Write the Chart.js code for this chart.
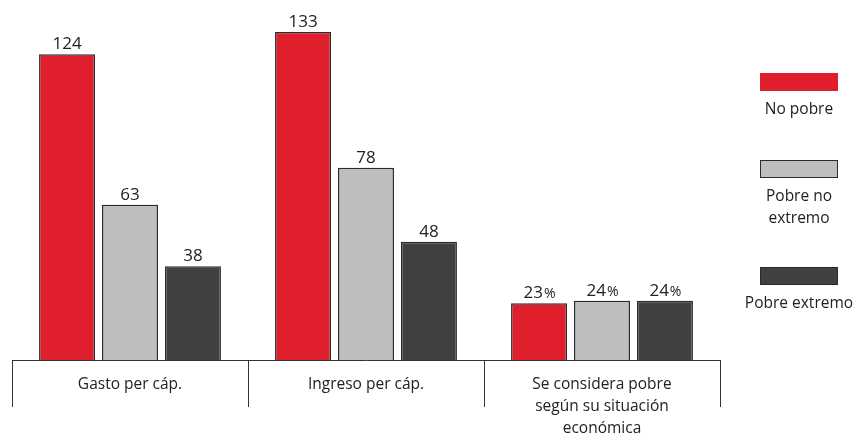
<!DOCTYPE html>
<html>
<head>
<meta charset="utf-8">
<script src="https://cdn.jsdelivr.net/npm/chart.js@4/dist/chart.umd.min.js"></script>
<style>
  body { margin: 0; background: #fff; font-family: "Open Sans", sans-serif; }
  #wrap { position: relative; width: 856px; height: 433px; }
  #legend { position: absolute; left: 740px; top: 73px; width: 118px; color: #222; font-size: 15.5px; text-align: center; }
  .item { position: absolute; left: 0; width: 118px; }
  .box { width: 78px; height: 18px; margin: 0 auto; box-sizing: border-box; }
  .lbl { line-height: 22px; margin-top: 6px; }
</style>
</head>
<body>
<div id="wrap">
  <canvas id="chart"></canvas>
  <div id="legend"></div>
</div>
<script>
// Data
const categories = ['Gasto per cáp.', 'Ingreso per cáp.', ['Se considera pobre', 'según su situación', 'económica']];
const seriesNames = ['No pobre', 'Pobre no extremo', 'Pobre extremo'];
const legendLabels = [['No pobre'], ['Pobre no', 'extremo'], ['Pobre extremo']];
const noPobre = [124, 133, 23];
const pobreNoExtremo = [63, 78, 24];
const pobreExtremo = [38, 48, 24];
const units = ['', '', '%'];

const colors = ['#E01F2D', '#BDBEC0', '#404042'];
const legendTops = [0, 87, 194];

// Value labels above bars, with a small % sign
const valueLabels = {
    id: 'valueLabels',
    afterDatasetsDraw(chart) {
        const ctx = chart.ctx;
        ctx.save();
        ctx.fillStyle = '#222';
        ctx.textBaseline = 'alphabetic';
        chart.data.datasets.forEach((ds, i) => {
            chart.getDatasetMeta(i).data.forEach((bar, j) => {
                const num = String(ds.data[j]);
                const unit = units[j];
                ctx.font = '17px "Open Sans"';
                const w1 = ctx.measureText(num).width;
                ctx.font = '14px "Open Sans"';
                const w2 = unit ? ctx.measureText(unit).width : 0;
                const x = bar.x - (w1 + w2) / 2;
                const y = bar.y - 5;
                ctx.font = '17px "Open Sans"';
                ctx.textAlign = 'left';
                ctx.fillText(num, x, y);
                if (unit) {
                    ctx.font = '14px "Open Sans"';
                    ctx.fillText(unit, x + w1 + 1, y);
                }
            });
        });
        ctx.restore();
    }
};

function initChart() {
    const ctx = document.getElementById('chart').getContext('2d');
    return new Chart(ctx, {
        type: 'bar',
        data: {
            labels: categories,
            datasets: [noPobre, pobreNoExtremo, pobreExtremo].map((d, i) => ({
                label: seriesNames[i],
                data: d,
                backgroundColor: colors[i],
                borderColor: '#2b2b2b',
                borderWidth: 1.5,
                categoryPercentage: 0.8,
                barPercentage: 0.89
            }))
        },
        options: {
            responsive: true,
            maintainAspectRatio: false,
            animation: false,
            layout: { padding: { left: 12, right: 136, top: 0, bottom: 0 } },
            plugins: {
                legend: { display: false },
                tooltip: { enabled: false }
            },
            scales: {
                x: {
                    afterFit: s => { s.height = 73; },
                    grid: {
                        display: true,
                        drawOnChartArea: false,
                        drawTicks: true,
                        tickLength: 47,
                        color: '#333',
                        lineWidth: 1,
                        offset: true
                    },
                    border: { display: true, color: '#333', width: 1 },
                    ticks: {
                        color: '#222',
                        font: { family: '"Open Sans"', size: 15.5, lineHeight: 1.42 },
                        padding: -33,
                        maxRotation: 0,
                        autoSkip: false
                    }
                },
                y: {
                    display: false,
                    min: 0,
                    max: 146
                }
            }
        },
        plugins: [valueLabels]
    });
}

// Legend with labels under the boxes
function buildLegend() {
    const legend = document.getElementById('legend');
    seriesNames.forEach((name, i) => {
        const item = document.createElement('div');
        item.className = 'item';
        item.style.top = legendTops[i] + 'px';
        const box = document.createElement('div');
        box.className = 'box';
        box.style.background = colors[i];
        box.style.border = i === 0 ? 'none' : '1.5px solid #2b2b2b';
        const lbl = document.createElement('div');
        lbl.className = 'lbl';
        lbl.innerHTML = legendLabels[i].join('<br>');
        item.appendChild(box);
        item.appendChild(lbl);
        legend.appendChild(item);
    });
}

buildLegend();
initChart();
</script>
</body>
</html>
